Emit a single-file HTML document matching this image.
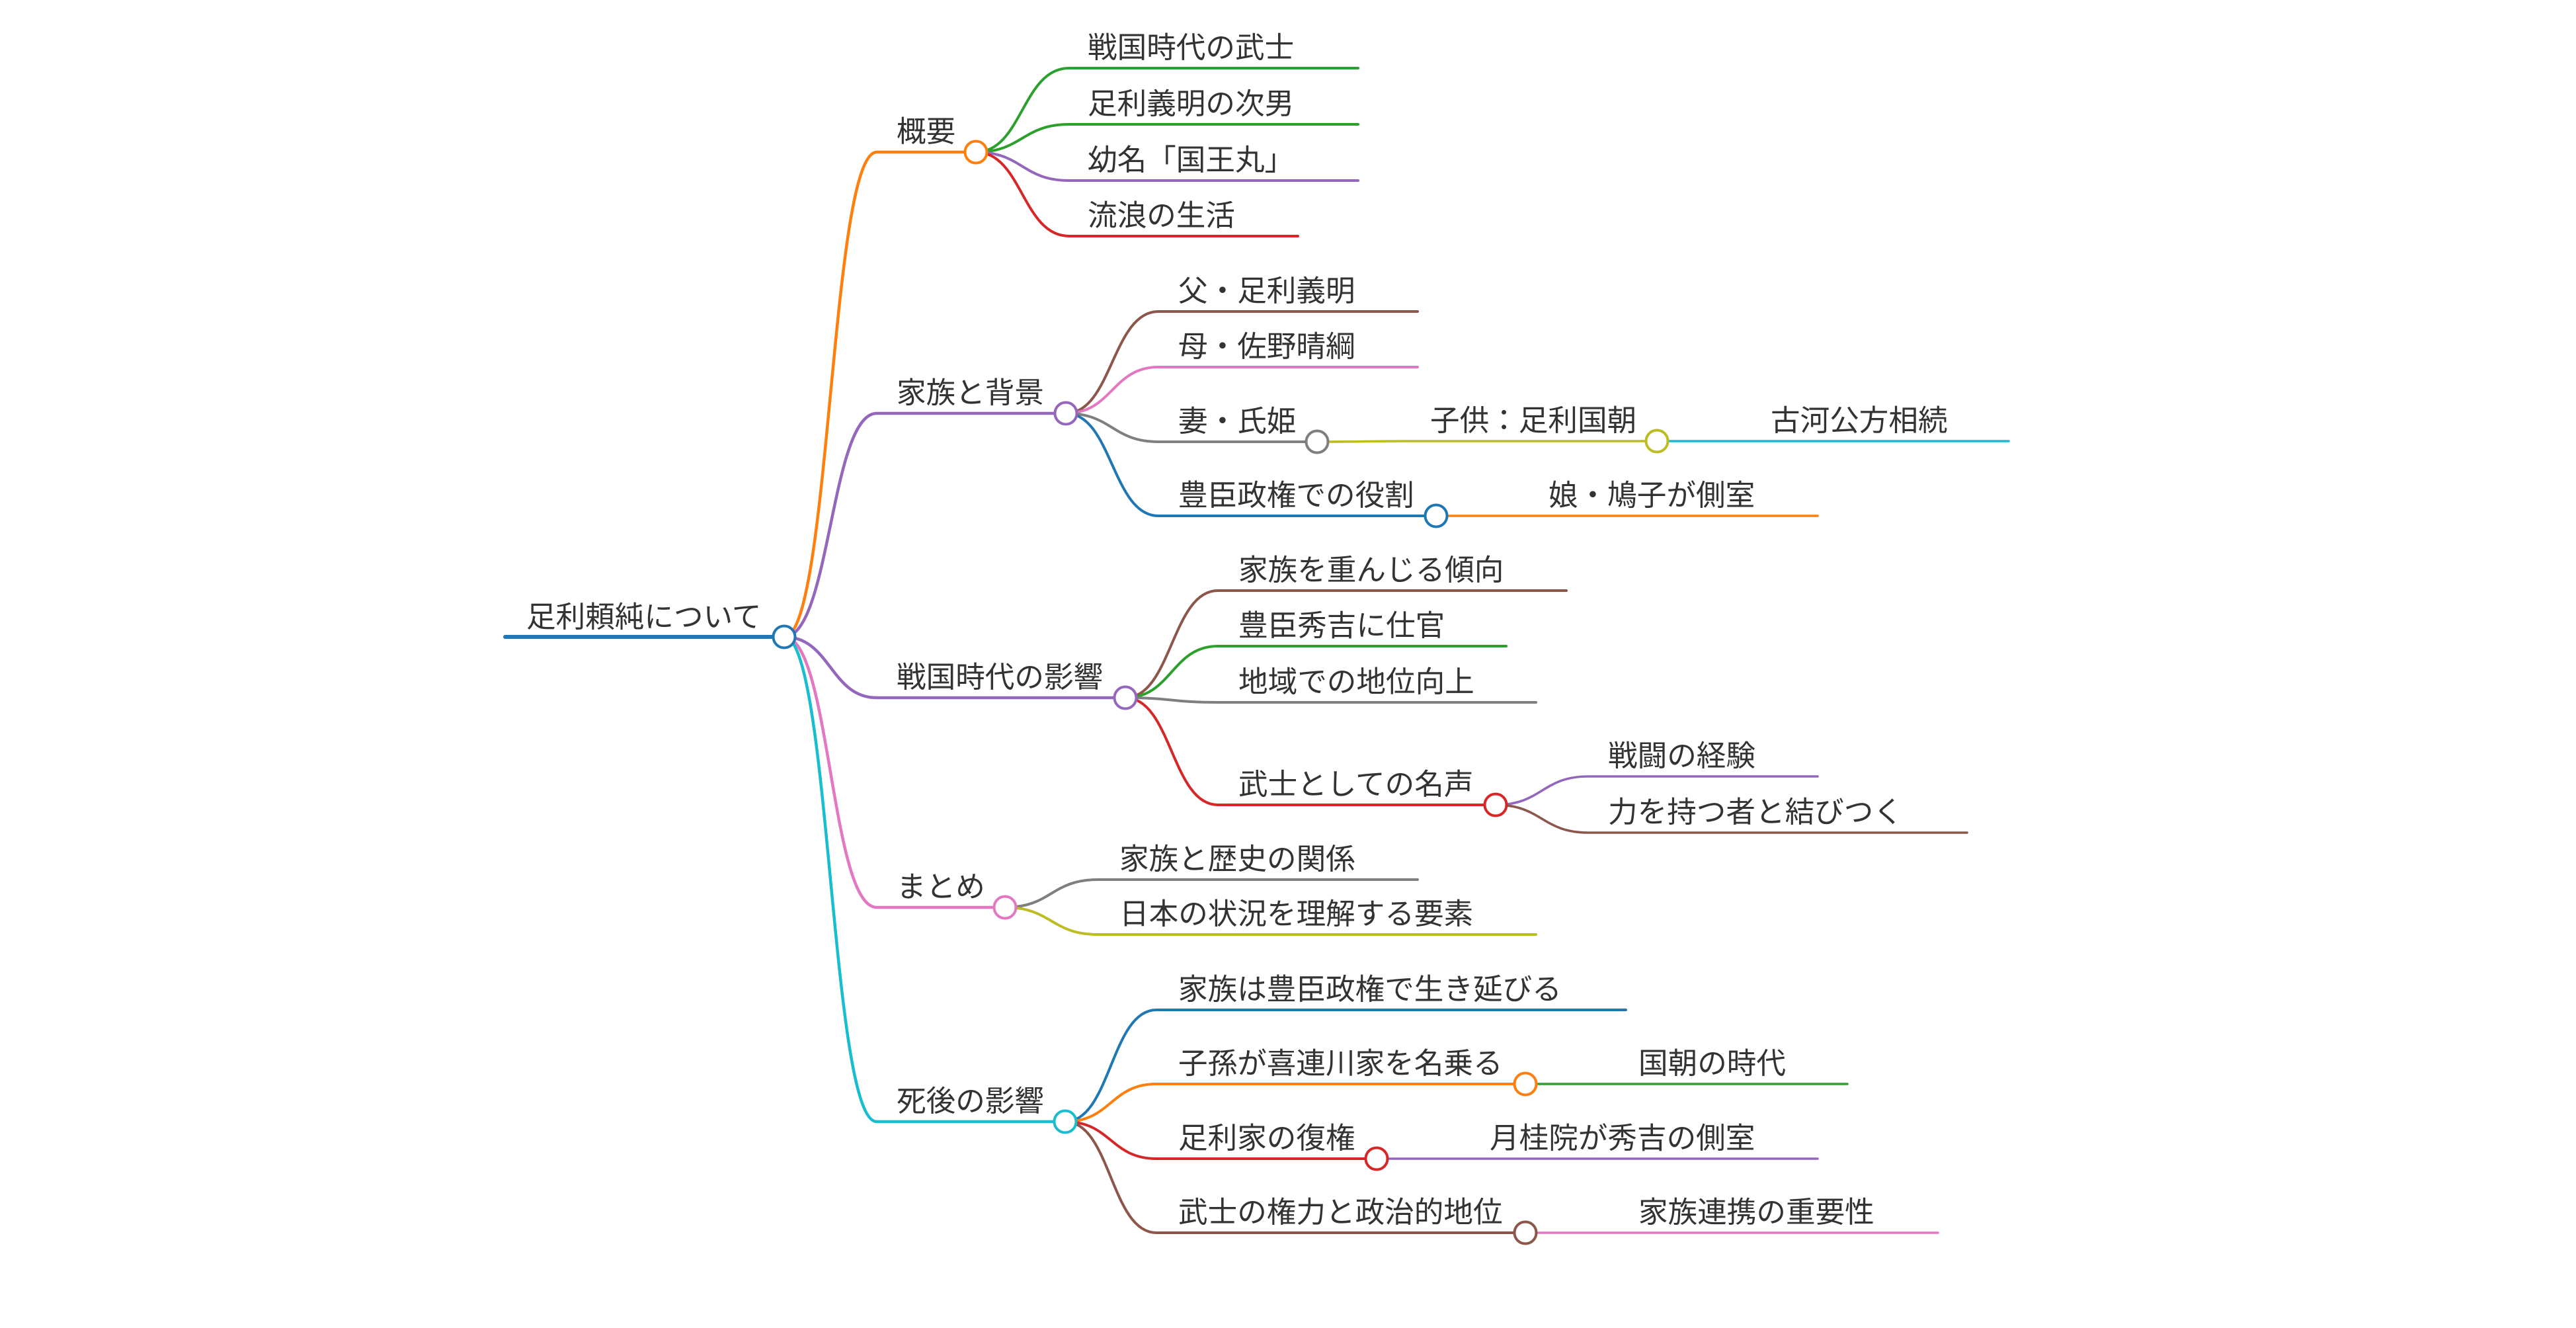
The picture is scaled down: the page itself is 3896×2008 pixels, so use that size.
<!DOCTYPE html>
<html><head><meta charset="utf-8">
<style>
html,body{margin:0;padding:0;background:#fff;}
svg{display:block;}
text{font-family:"Liberation Sans","Noto Sans CJK JP",sans-serif;font-size:44.6px;fill:#333;}
</style></head>
<body>
<svg width="3896" height="2008" viewBox="0 0 3896 2008" xmlns="http://www.w3.org/2000/svg">
<rect width="3896" height="2008" fill="#fff"/>
<g fill="none" stroke-linecap="round">
<g stroke-width="4.5">
<path d="M1186 963 C1256 963 1256 230 1326 230 H1476" stroke="#ff7f0e"/>
<path d="M1186 963 C1256 963 1256 625 1326 625 H1612" stroke="#9467bd"/>
<path d="M1186 963 C1256 963 1256 1055 1326 1055 H1702" stroke="#9467bd"/>
<path d="M1186 963 C1256 963 1256 1372 1326 1372 H1520" stroke="#e377c2"/>
<path d="M1186 963 C1256 963 1256 1696 1326 1696 H1611" stroke="#17becf"/>
</g>
<g stroke-width="4">
<path d="M1476 230 C1546 230 1546 103 1617 103 H2054" stroke="#2ca02c"/>
<path d="M1476 230 C1546 230 1546 188 1617 188 H2054" stroke="#2ca02c"/>
<path d="M1476 230 C1546 230 1546 273 1617 273 H2054" stroke="#9467bd"/>
<path d="M1476 230 C1546 230 1546 357 1617 357 H1963" stroke="#d62728"/>

<path d="M1612 625 C1682 625 1682 471 1752 471 H2144" stroke="#8c564b"/>
<path d="M1612 625 C1682 625 1682 555 1752 555 H2144" stroke="#e377c2"/>
<path d="M1612 625 C1682 625 1682 668 1752 668 H1992" stroke="#7f7f7f"/>
<path d="M1612 625 C1682 625 1682 780 1752 780 H2172" stroke="#1f77b4"/>

<path d="M1702 1055 C1772 1055 1772 893 1842 893 H2369" stroke="#8c564b"/>
<path d="M1702 1055 C1772 1055 1772 977 1842 977 H2278" stroke="#2ca02c"/>
<path d="M1702 1055 C1772 1055 1772 1062 1842 1062 H2323" stroke="#7f7f7f"/>
<path d="M1702 1055 C1772 1055 1772 1217 1842 1217 H2262" stroke="#d62728"/>

<path d="M1520 1372 C1590 1372 1590 1330 1660 1330 H2144" stroke="#7f7f7f"/>
<path d="M1520 1372 C1590 1372 1590 1413 1660 1413 H2323" stroke="#bcbd22"/>

<path d="M1611 1696 C1680 1696 1680 1527 1749 1527 H2459" stroke="#1f77b4"/>
<path d="M1611 1696 C1680 1696 1680 1639 1749 1639 H2307" stroke="#ff7f0e"/>
<path d="M1611 1696 C1680 1696 1680 1752 1749 1752 H2082" stroke="#d62728"/>
<path d="M1611 1696 C1680 1696 1680 1864 1749 1864 H2307" stroke="#8c564b"/>
</g>
<g stroke-width="3.6">
<path d="M1992 668 C2062 668 2062 667 2132 667 H2506" stroke="#bcbd22"/>
<path d="M2506 667 H3038" stroke="#17becf"/>
<path d="M2172 780 H2749" stroke="#ff7f0e"/>
<path d="M2262 1217 C2332 1217 2332 1174 2402 1174 H2749" stroke="#9467bd"/>
<path d="M2262 1217 C2332 1217 2332 1259 2402 1259 H2975" stroke="#8c564b"/>
<path d="M2307 1639 H2794" stroke="#2ca02c"/>
<path d="M2082 1752 H2749" stroke="#9467bd"/>
<path d="M2307 1864 H2931" stroke="#e377c2"/>
</g>
<path d="M764 963 H1186" stroke="#1f77b4" stroke-width="6"/>
</g>
<g fill="#fff" stroke-width="4">
<circle cx="1186" cy="963" r="16.5" stroke="#1f77b4"/>
<circle cx="1476" cy="230" r="16.5" stroke="#ff7f0e"/>
<circle cx="1612" cy="625" r="16.5" stroke="#9467bd"/>
<circle cx="1702" cy="1055" r="16.5" stroke="#9467bd"/>
<circle cx="1520" cy="1372" r="16.5" stroke="#e377c2"/>
<circle cx="1611" cy="1696" r="16.5" stroke="#17becf"/>
<circle cx="1992" cy="668" r="16.5" stroke="#7f7f7f"/>
<circle cx="2506" cy="667" r="16.5" stroke="#bcbd22"/>
<circle cx="2172" cy="780" r="16.5" stroke="#1f77b4"/>
<circle cx="2262" cy="1217" r="16.5" stroke="#d62728"/>
<circle cx="2307" cy="1639" r="16.5" stroke="#ff7f0e"/>
<circle cx="2082" cy="1752" r="16.5" stroke="#d62728"/>
<circle cx="2307" cy="1864" r="16.5" stroke="#8c564b"/>
</g>
<text x="796" y="948">足利頼純について</text>

<text x="1356" y="214">概要</text>
<text x="1356" y="609">家族と背景</text>
<text x="1356" y="1039">戦国時代の影響</text>
<text x="1356" y="1356">まとめ</text>
<text x="1356" y="1680">死後の影響</text>

<text x="1645" y="87">戦国時代の武士</text>
<text x="1645" y="172">足利義明の次男</text>
<text x="1645" y="257">幼名「国王丸」</text>
<text x="1645" y="341">流浪の生活</text>

<text x="1782" y="455">父・足利義明</text>
<text x="1782" y="539">母・佐野晴綱</text>
<text x="1782" y="652">妻・氏姫</text>
<text x="1782" y="764">豊臣政権での役割</text>
<text x="2163" y="651">子供：足利国朝</text>
<text x="2678" y="651">古河公方相続</text>
<text x="2342" y="764">娘・鳩子が側室</text>

<text x="1873" y="877">家族を重んじる傾向</text>
<text x="1873" y="961">豊臣秀吉に仕官</text>
<text x="1873" y="1046">地域での地位向上</text>
<text x="1873" y="1201">武士としての名声</text>
<text x="2432" y="1158">戦闘の経験</text>
<text x="2432" y="1243">力を持つ者と結びつく</text>

<text x="1693" y="1314">家族と歴史の関係</text>
<text x="1693" y="1397">日本の状況を理解する要素</text>

<text x="1782" y="1511">家族は豊臣政権で生き延びる</text>
<text x="1782" y="1623">子孫が喜連川家を名乗る</text>
<text x="1782" y="1736">足利家の復権</text>
<text x="1782" y="1848">武士の権力と政治的地位</text>
<text x="2478" y="1623">国朝の時代</text>
<text x="2253" y="1736">月桂院が秀吉の側室</text>
<text x="2478" y="1848">家族連携の重要性</text>
</svg>
</body></html>
